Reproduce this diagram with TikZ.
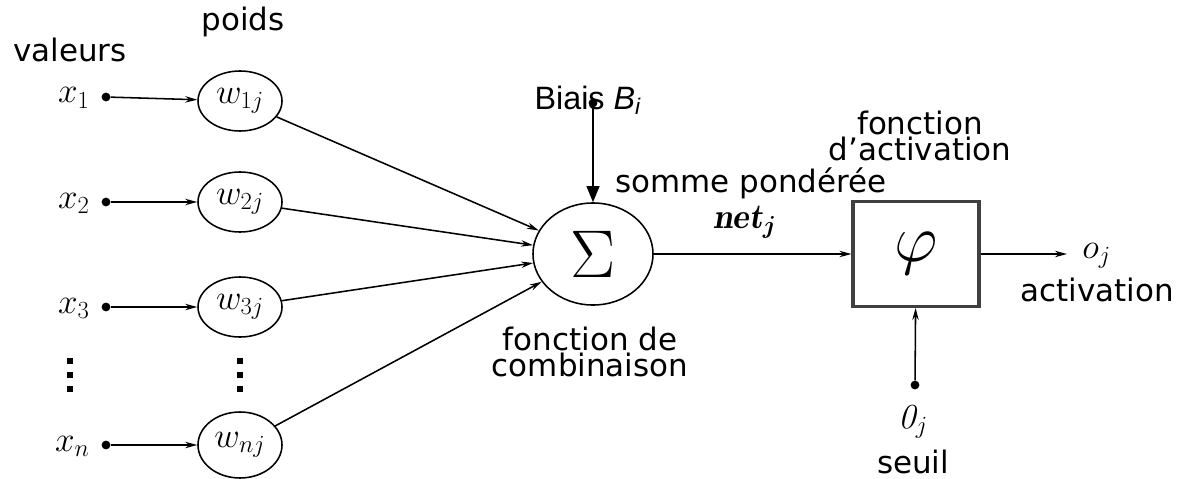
\RequirePackage{fix-cm}
\documentclass[tikz,border=0pt]{standalone}
\usepackage{amsmath}
\usepackage{fontspec}
\setsansfont{DejaVu Sans}
\newfontfamily\biasfont{Liberation Sans}
\usetikzlibrary{shapes.geometric, arrows.meta, positioning}
\newcommand{\mthfont}{\fontsize{25}{28}\selectfont}
\newcommand{\txtfont}{\sffamily\fontsize{22}{19}\selectfont}

\begin{document}
\begin{tikzpicture}[
    x=0.025cm, y=-0.025cm,
    txt/.style={font=\txtfont, align=center, inner sep=0pt},
    mth/.style={font=\mthfont, inner sep=0pt},
    weight/.style={draw, line width=1.1pt, ellipse, minimum width=2.1cm, minimum height=1.5cm, inner sep=0pt, font=\mthfont},
    dot/.style={circle, fill, inner sep=0pt, minimum size=2.2mm},
    arrow/.style={-{Stealth[length=3mm, width=1.6mm]}, line width=1.1pt},
    bigarrow/.style={-{Triangle[length=4mm, width=3.2mm]}, line width=1.1pt}
]
    \useasboundingbox (0,0) rectangle (1189,479);

    % Titles
    \node[txt] (val) at (70,50) {valeurs};
    \node[txt] (poids) at (243,22) {poids};

    % Inputs
    \node[mth, anchor=base east] (x1) at (90,103) {$x_1$};
    \node[mth, anchor=base east] (x2) at (90,208) {$x_2$};
    \node[mth, anchor=base east] (x3) at (90,313) {$x_3$};
    \node[mth, anchor=base east] (xn) at (90,451) {$x_n$};
    \node[dot] (d1) at (106,97) {};
    \node[dot] (d2) at (106,202) {};
    \node[dot] (d3) at (106,307) {};
    \node[dot] (dn) at (106,445) {};
    % vertical dots
    \fill (67,358) rectangle ++(6,6);
    \fill (67,372) rectangle ++(6,6);
    \fill (67,386) rectangle ++(6,6);

    % Weights
    \node[weight] (w1) at (240,101) {$w_{1j}$};
    \node[weight] (w2) at (240,202) {$w_{2j}$};
    \node[weight] (w3) at (240,307) {$w_{3j}$};
    \node[weight, minimum height=1.65cm] (wn) at (240,445) {$w_{nj}$};
    \fill (237,358) rectangle ++(6,6);
    \fill (237,372) rectangle ++(6,6);
    \fill (237,386) rectangle ++(6,6);

    % Combination
    \node[draw, line width=1.1pt, ellipse, minimum width=3cm, minimum height=2.55cm, inner sep=0pt, font=\fontsize{48}{50}\selectfont] (sum) at (593,254) {$\Sigma$};
    \node[font=\biasfont\fontsize{23}{26}\selectfont, inner sep=0pt] (bias) at (588,100) {Biais \textit{B}\textsubscript{\textit{i}}};
    \node[dot] (bd) at (593,103) {};
    \node[txt] (comb) at (590,352) {fonction de\\combinaison};
    \node[txt] (somme) at (751,183) {somme pondérée};
    \node[mth] (net) at (745,222) {$\boldsymbol{\mathit{net}_j}$};

    % Activation
    \node[draw=black!75, line width=2.2pt, minimum width=3.15cm, minimum height=2.62cm, font=\fontsize{48}{50}\selectfont] (act) at (916,254) {$\varphi$};
    \node[txt] (factiv) at (920,136) {fonction\\d’activation};
    \coordinate (out) at (1067,254);
    \node[mth, anchor=base west] (oj) at (1082,258) {$o_j$};
    \node[txt] (activ) at (1097,290) {activation};
    \node[dot] (sd) at (915,385) {};
    \node[mth, anchor=base] (theta) at (913,428) {$\mathit{0}_j$};
    \node[txt] (seuil) at (913,462) {seuil};

    % Connections
    \draw[arrow] (d1) -- (w1);
    \draw[arrow] (d2) -- (w2);
    \draw[arrow] (d3) -- (w3);
    \draw[arrow] (dn) -- (wn);
    \draw[arrow] (w1) -- (sum);
    \draw[arrow] (w2) -- (sum);
    \draw[arrow] (w3) -- (sum);
    \draw[arrow] (wn) -- (sum);
    \draw[bigarrow] (bd) -- (sum);
    \draw[arrow] (sum) -- (act);
    \draw[arrow] (act) -- (out);
    \draw[arrow] (sd) -- (act);
\end{tikzpicture}
\end{document}
